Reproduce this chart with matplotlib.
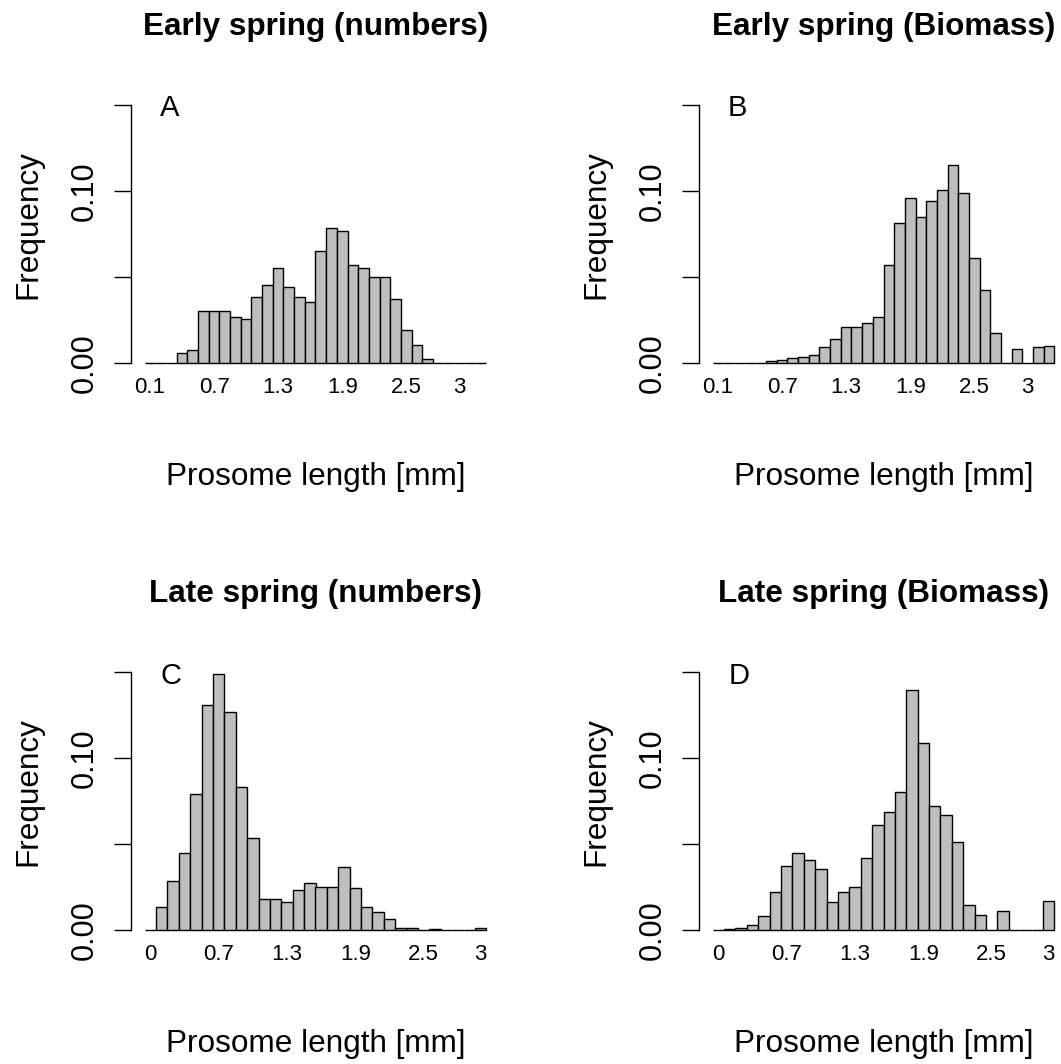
import matplotlib.pyplot as plt

plt.rcParams['font.family'] = ['Liberation Sans', 'DejaVu Sans']

# size classes (prosome length, mm)
early_bins = ["0.1", "0.2", "0.3", "0.4", "0.5", "0.6", "0.7", "0.8", "0.9", "1",
              "1.1", "1.2", "1.3", "1.4", "1.5", "1.6", "1.7", "1.8", "1.9", "2",
              "2.1", "2.2", "2.3", "2.4", "2.5", "2.6", "2.7", "2.8", "2.9", "3",
              "3.1", "3.2"]
late_bins = ["0", "0.2", "0.3", "0.4", "0.5", "0.6", "0.7", "0.8", "0.9", "1",
             "1.1", "1.2", "1.3", "1.4", "1.5", "1.6", "1.7", "1.8", "1.9", "2",
             "2.1", "2.2", "2.3", "2.4", "2.5", "2.6", "2.7", "2.8", "2.9", "3"]
early_labels = ["0.1", "0.7", "1.3", "1.9", "2.5", "3"]
late_labels = ["0", "0.7", "1.3", "1.9", "2.5", "3"]

early_numbers = [0, 0, 0, 0.0054, 0.0074, 0.0302, 0.0302, 0.0302, 0.0267, 0.0254,
                 0.0384, 0.0453, 0.0550, 0.0438, 0.0384, 0.0351, 0.0649, 0.0785,
                 0.0767, 0.0568, 0.0552, 0.0500, 0.0500, 0.0370, 0.0190, 0.0105,
                 0.0023, 0, 0, 0, 0, 0]
early_biomass = [0, 0, 0, 0, 0, 0.0010, 0.0016, 0.0027, 0.0035, 0.0047,
                 0.0092, 0.0138, 0.0210, 0.0210, 0.0230, 0.0267, 0.0567, 0.0815,
                 0.0957, 0.0846, 0.0942, 0.1004, 0.1150, 0.0988, 0.0608, 0.0421,
                 0.0175, 0, 0.0078, 0, 0.0092, 0.0099]
late_numbers = [0, 0.0132, 0.0286, 0.0451, 0.0794, 0.1307, 0.1488, 0.1270, 0.0835,
                0.0535, 0.0183, 0.0183, 0.0161, 0.0233, 0.0274, 0.0253, 0.0253,
                0.0368, 0.0243, 0.0134, 0.0103, 0.0064, 0.0010, 0.0010, 0, 0.0006,
                0, 0, 0, 0.0010]
late_biomass = [0, 0.0004, 0.0010, 0.0027, 0.0082, 0.0220, 0.0375, 0.0447, 0.0409,
                0.0354, 0.0165, 0.0222, 0.0253, 0.0422, 0.0611, 0.0687, 0.0805,
                0.1395, 0.1088, 0.0724, 0.0669, 0.0512, 0.0146, 0.0088, 0, 0.0113,
                0, 0, 0, 0.0171]

W, H = 1061, 1064
fig = plt.figure(figsize=(W / 100, H / 100), dpi=100)

# (title, letter, bins, values, shown labels, left px, zero-line px)
panels = [
    ("Early spring (numbers)", "A", early_bins, early_numbers, early_labels, 131, 362.7),
    ("Early spring (Biomass)", "B", early_bins, early_biomass, early_labels, 699, 362.7),
    ("Late spring (numbers)", "C", late_bins, late_numbers, late_labels, 131, 930),
    ("Late spring (Biomass)", "D", late_bins, late_biomass, late_labels, 699, 930),
]

px_per_unit = 1718
ax_w = 369
for title, letter, bins, vals, shown, left, zero in panels:
    bottom = zero + 0.006 * px_per_unit
    top = zero - 0.156 * px_per_unit
    ax = fig.add_axes([left / W, 1 - bottom / H, ax_w / W, (bottom - top) / H])
    n = len(vals)
    ax.bar([i + 0.5 for i in range(n)], vals, width=1, color='#BEBEBE',
           edgecolor='black', linewidth=1)
    ax.set_xlim(-0.04 * n, 1.04 * n)
    ax.set_ylim(-0.006, 0.156)
    ticks = [i + 0.5 for i, b in enumerate(bins) if b in shown]
    ax.set_xticks(ticks, [b for b in bins if b in shown])
    ax.tick_params(axis='x', length=0, labelsize=16, pad=3)
    ax.set_yticks([0, 0.05, 0.10, 0.15], ['0.00', '', '0.10', ''])
    ax.tick_params(axis='y', length=12.2, width=1, labelsize=22, pad=10,
                   labelrotation=90)
    for lab in ax.get_yticklabels():
        lab.set_va('center')
    for s in ['top', 'right', 'bottom']:
        ax.spines[s].set_visible(False)
    ax.spines['left'].set_bounds(0, 0.15)
    ax.spines['left'].set_linewidth(1)
    ax.text(2.35, 0.148, letter, fontsize=21, ha='center', va='center')

    cx = (left + ax_w / 2) / W
    fig.text(cx, 1 - (zero - 335.7) / H, title, fontsize=22.7,
             fontweight='bold', ha='center', va='center')
    fig.text(cx, 1 - (zero + 114.3) / H, "Prosome length [mm]", fontsize=22.7,
             ha='center', va='center')
    fig.text((left - 103) / W, 1 - (zero - 138) / H, "Frequency", fontsize=22.7,
             rotation=90, ha='center', va='center')

fig.savefig('out.png', dpi=100)
